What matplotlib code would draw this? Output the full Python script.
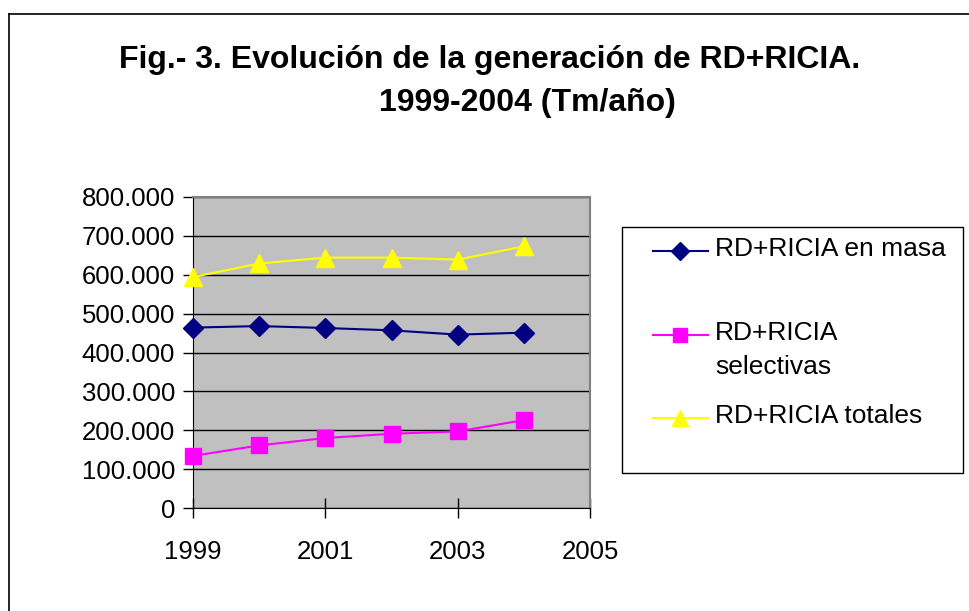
import matplotlib.pyplot as plt
from matplotlib.lines import Line2D
from matplotlib.patches import Rectangle
from matplotlib.ticker import FuncFormatter

years = [1999, 2000, 2001, 2002, 2003, 2004]
en_masa = [464000, 468000, 463000, 457000, 446000, 451000]
selectivas = [134000, 161000, 180000, 191000, 197000, 226000]
totales = [594000, 629000, 644000, 644000, 639000, 673000]

labels = ["RD+RICIA en masa", "RD+RICIA\nselectivas", "RD+RICIA totales"]
colors = ["#000080", "#ff00ff", "#ffff00"]
markers = ["D", "s", "^"]
msizes = [10, 11, 13]

plt.rcParams["font.family"] = ["Liberation Sans", "DejaVu Sans"]

W, H = 969, 611
fig = plt.figure(figsize=(W / 100, H / 100), dpi=100)
ax = fig.add_axes([193 / W, 1 - 508 / H, (590 - 193) / W, (508 - 197) / H])

ax.set_facecolor("#c0c0c0")
for vals, c, m, ms in zip([en_masa, selectivas, totales], colors, markers, msizes):
    ax.plot(years, vals, color=c, marker=m, markersize=ms, lw=1.5, clip_on=False, zorder=3)

ax.set_xlim(1999, 2005)
ax.set_ylim(0, 800000)
ax.set_xticks([1999, 2001, 2003, 2005])
ax.set_yticks(range(0, 800001, 100000))
ax.yaxis.set_major_formatter(FuncFormatter(lambda v, p: "0" if v == 0 else f"{int(v):,}".replace(",", ".")))
ax.grid(axis="y", color="black", lw=1)
ax.set_axisbelow(True)
for s in ["top", "right"]:
    ax.spines[s].set_color("#808080")
    ax.spines[s].set_linewidth(1.5)
for s in ["left", "bottom"]:
    ax.spines[s].set_color("black")
ax.tick_params(axis="y", direction="out", length=7, width=1, labelsize=18.5, pad=6)
ax.tick_params(axis="x", direction="inout", length=14, width=1, labelsize=18.5, pad=16)

# legend box, drawn by hand so the handle sits on the first line of a wrapped label
fig.add_artist(Rectangle((622 / W, 1 - 473 / H), (963 - 622) / W, (473 - 227) / H,
                         transform=fig.transFigure, fill=False, edgecolor="black", lw=1))
entry_y = [251, 335, 418]
for lab, c, m, ms, y in zip(labels, colors, markers, msizes, entry_y):
    fy = 1 - y / H
    fig.add_artist(Line2D([653 / W, 708 / W], [fy, fy], color=c, lw=1.5, transform=fig.transFigure))
    fig.add_artist(Line2D([680 / W], [fy], color=c, marker=m, markersize=ms - 1, lw=0,
                          transform=fig.transFigure))
    # top of the first line's cap height lines up with the handle
    fig.text(715 / W, 1 - (y - 14) / H, lab, ha="left", va="top",
             fontsize=19, linespacing=1.5)

# outer frame (top and left edges)
fig.add_artist(Line2D([9 / W, 9 / W], [0, 1 - 14 / H], color="black", lw=1.2, transform=fig.transFigure))
fig.add_artist(Line2D([9 / W, 1], [1 - 14 / H, 1 - 14 / H], color="black", lw=1.2, transform=fig.transFigure))

fig.text(490 / W, 1 - 68 / H, "Fig.- 3. Evolución de la generación de RD+RICIA.",
         ha="center", va="baseline", fontsize=23, fontweight="bold")
fig.text(527 / W, 1 - 111 / H, "1999-2004 (Tm/año)",
         ha="center", va="baseline", fontsize=23, fontweight="bold")

fig.savefig("out.png", dpi=100)
